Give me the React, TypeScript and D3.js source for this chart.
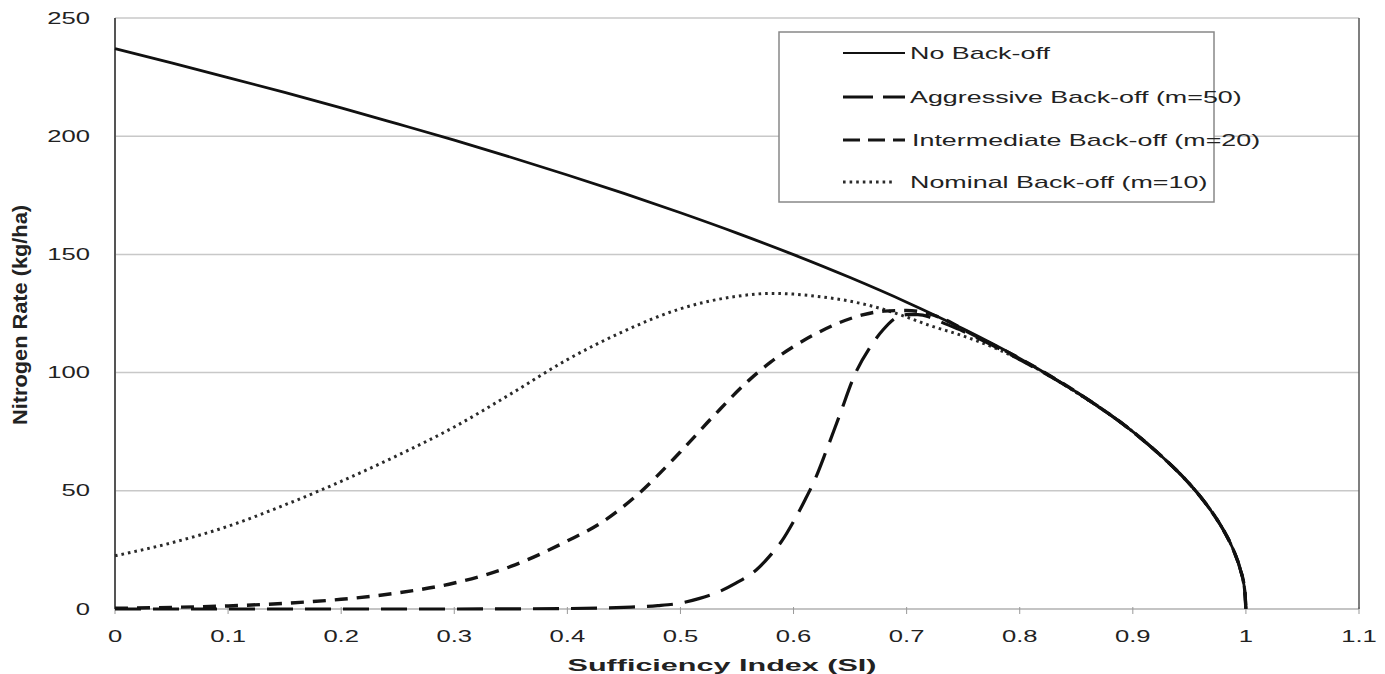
import React from 'react';
import * as d3 from 'd3';

// values: [sufficiency index, nitrogen rate]
const tail: [number, number][] = [
  [0.9, 75], [0.925, 64.8], [0.95, 53], [0.96, 47.4], [0.97, 41], [0.98, 33.5],
  [0.99, 23.7], [0.995, 16.8], [0.999, 7.5], [1, 0],
];

const noBackoff: [number, number][] = [
  [0, 237], [0.05, 231], [0.1, 224.8], [0.15, 218.5], [0.2, 212], [0.25, 205.2],
  [0.3, 198.3], [0.35, 191.1], [0.4, 183.6], [0.45, 175.8], [0.5, 167.6], [0.55, 159],
  [0.6, 149.9], [0.65, 140.2], [0.7, 129.8], [0.75, 118.5], [0.8, 106], [0.85, 91.8],
  ...tail,
];

const aggressive: [number, number][] = [
  [0, 0], [0.1, 0], [0.2, 0], [0.3, 0], [0.4, 0.2], [0.45, 0.7], [0.48, 1.4],
  [0.5, 2.5], [0.517, 4.5], [0.535, 7.5], [0.549, 10.9], [0.567, 16.5], [0.58, 23],
  [0.59, 29], [0.6, 37], [0.61, 46], [0.62, 56], [0.629, 67], [0.64, 81],
  [0.655, 100], [0.668, 111], [0.679, 118], [0.69, 123], [0.7, 124.5], [0.71, 124.5],
  [0.72, 123.5], [0.73, 121.5], [0.75, 117.5], [0.8, 105.5], [0.85, 91.8],
  ...tail,
];

const intermediate: [number, number][] = [
  [0, 0.3], [0.05, 0.7], [0.1, 1.3], [0.15, 2.4], [0.2, 4.1], [0.25, 6.8],
  [0.3, 11], [0.35, 18], [0.4, 28.8], [0.43, 36.5], [0.46, 47.5], [0.5, 66.5],
  [0.53, 82], [0.56, 96.5], [0.58, 104.5], [0.6, 111], [0.62, 116.5], [0.64, 121],
  [0.66, 124.3], [0.68, 126], [0.7, 126.3], [0.72, 124.8], [0.74, 121], [0.75, 118.3],
  [0.8, 106], [0.85, 91.8],
  ...tail,
];

const nominal: [number, number][] = [
  [0, 22.5], [0.05, 28], [0.1, 35], [0.15, 44], [0.2, 54], [0.25, 65], [0.3, 77],
  [0.35, 91], [0.4, 105.5], [0.45, 117.5], [0.5, 127], [0.55, 132.3], [0.58, 133.5],
  [0.6, 133.2], [0.62, 132.3], [0.65, 130.2], [0.68, 126.7], [0.7, 123.5], [0.72, 120],
  [0.75, 115.5], [0.78, 110], [0.8, 105.5], [0.85, 91.6],
  ...tail,
];

const xTicks = [0, 0.1, 0.2, 0.3, 0.4, 0.5, 0.6, 0.7, 0.8, 0.9, 1, 1.1];
const yTicks = [0, 50, 100, 150, 200, 250];

const series = [
  { name: 'No Back-off', data: noBackoff, dash: '', width: 2.8, color: '#111' },
  { name: 'Aggressive Back-off (m=50)', data: aggressive, dash: '26 12', width: 3.2, color: '#111' },
  { name: 'Intermediate Back-off (m=20)', data: intermediate, dash: '13 9', width: 3.4, color: '#151515' },
  { name: 'Nominal Back-off (m=10)', data: nominal, dash: '2.6 4', width: 3, color: '#2a2a2a' },
];

const font = 'Liberation Sans, Arial, sans-serif';

export default function App() {
  const x = d3.scaleLinear().domain([0, 1.1]).range([115, 1359]);
  const y = d3.scaleLinear().domain([0, 250]).range([609, 18]);

  const line = d3.line<[number, number]>()
    .x(d => x(d[0]))
    .y(d => y(d[1]))
    .curve(d3.curveMonotoneX);

  const legendRows = [53, 97, 140, 182];
  const legendDash = ['', '30 10 18 0', '17 8', '2.6 4'];

  return (
    <svg width={1385} height={674} style={{ position: 'absolute', left: 0, top: 0, background: '#fff' }}>
      {/* gridlines */}
      {yTicks.filter(t => t > 0).map(t => (
        <line key={'g' + t} x1={x(0)} x2={x(1.1)} y1={y(t)} y2={y(t)} stroke="#c8c8c8" strokeWidth={1.5} />
      ))}
      {/* bottom axis + ticks */}
      <line x1={x(0)} x2={x(1.1)} y1={y(0)} y2={y(0)} stroke="#c4c4c4" strokeWidth={2} />
      {xTicks.map(t => (
        <line key={'xt' + t} x1={x(t)} x2={x(t)} y1={y(0) - 2} y2={y(0) + 5} stroke="#999" strokeWidth={1} />
      ))}
      {/* left axis and right border */}
      <line x1={x(0)} x2={x(0)} y1={y(250)} y2={y(0)} stroke="#555" strokeWidth={2} />
      <line x1={x(1.1)} x2={x(1.1)} y1={y(250)} y2={y(0)} stroke="#555" strokeWidth={1.5} />

      {/* y tick labels */}
      {yTicks.map(t => (
        <text key={'yl' + t} transform={`translate(90,${y(t)}) scale(1.6,1)`} dy="0.35em"
          textAnchor="end" fontFamily={font} fontSize={16} fill="#222">{t}</text>
      ))}
      {/* x tick labels */}
      {xTicks.map(t => (
        <text key={'xl' + t} transform={`translate(${x(t)},636) scale(1.6,1)`} dy="0.35em"
          textAnchor="middle" fontFamily={font} fontSize={16} fill="#222">{d3.format('~g')(t)}</text>
      ))}

      {/* axis titles */}
      <text x={722} y={665} dy="0.35em" textAnchor="middle" fontFamily={font} fontSize={17}
        fontWeight="bold" fill="#222" textLength={309} lengthAdjust="spacingAndGlyphs">Sufficiency Index (SI)</text>
      <text transform="translate(20,315) rotate(-90) scale(1,1.3)" textAnchor="middle" dy="0.35em"
        fontFamily={font} fontSize={15} fontWeight="bold" fill="#222" textLength={220}
        lengthAdjust="spacingAndGlyphs">Nitrogen Rate (kg/ha)</text>

      {/* curves */}
      {[...series].reverse().map(s => (
        <path key={s.name} d={line(s.data) ?? ''} fill="none" stroke={s.color} strokeWidth={s.width}
          strokeDasharray={s.dash || undefined} strokeLinejoin="round" />
      ))}

      {/* legend */}
      <rect x={779} y={32} width={435} height={170} fill="#fff" stroke="#888" strokeWidth={1.5} />
      {series.map((s, i) => (
        <g key={'lg' + s.name}>
          <line x1={843} x2={i === 3 ? 893 : 905} y1={legendRows[i]} y2={legendRows[i]} stroke={s.color}
            strokeWidth={i === 0 ? 2.2 : 2.8} strokeDasharray={legendDash[i] || undefined} />
          <text transform={`translate(${i === 2 ? 912 : 910},${legendRows[i]}) scale(1.68,1)`} dy="0.35em"
            fontFamily={font} fontSize={16} fill="#222">{s.name}</text>
        </g>
      ))}
    </svg>
  );
}
